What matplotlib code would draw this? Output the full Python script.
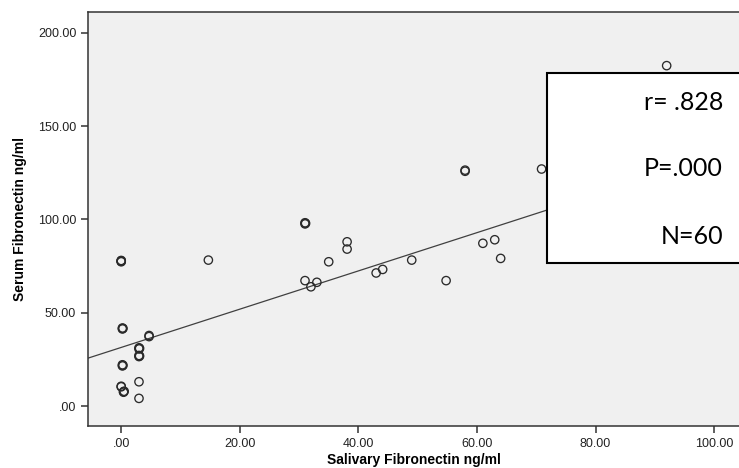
import numpy as np
import matplotlib
matplotlib.use('Agg')
import matplotlib.pyplot as plt
from matplotlib.patches import Rectangle
from matplotlib.ticker import FuncFormatter

# salivary (x) vs serum (y) fibronectin, ng/ml; repeated pairs are overlapping subjects
salivary = [0.0, 0.0, 0.0, 0.0, 14.7,
            0.2, 0.2, 0.3, 4.7, 4.7,
            3.0, 3.0, 3.1, 3.0, 3.0, 3.1,
            0.2, 0.2, 0.3, 0.0, 0.0,
            0.4, 0.5, 0.4, 3.0, 3.0,
            31.0, 31.0, 31.1, 38.1, 38.1, 35.0,
            31.0, 33.0, 32.0, 43.0, 44.1, 49.0,
            54.8, 61.0, 63.0, 64.0, 58.0, 58.0,
            70.9, 92.0]
serum = [77.3, 77.6, 78.0, 77.8, 78.2,
         41.3, 41.8, 41.6, 37.2, 37.8,
         30.6, 31.2, 30.9, 26.5, 27.1, 26.8,
         21.5, 22.1, 21.8, 10.3, 10.6,
         7.4, 7.9, 7.7, 13.0, 4.1,
         97.6, 98.2, 97.9, 88.0, 84.1, 77.3,
         67.2, 66.3, 63.9, 71.3, 73.2, 78.2,
         67.2, 87.2, 89.1, 79.1, 125.8, 126.4,
         127.0, 182.4]

fit_intercept = 31.4
fit_slope = 1.025

stats_text = ['r= .828', 'P=.000', 'N=60']

x_ticks = [0, 20, 40, 60, 80, 100]
y_ticks = [0, 50, 100, 150, 200]


def spss_fmt(v, pos=None):
    s = f'{v:.2f}'
    return s[1:] if s.startswith('0') else s


W, H = 739, 468
fig = plt.figure(figsize=(W / 100, H / 100), dpi=100)
ax = fig.add_axes([88 / W, (H - 426) / H, (W - 88) / W, (426 - 11.7) / H])
ax.set_facecolor('#f0f0f0')

ax.set_xlim(-5.6, 104.2)
ax.set_ylim(-10.7, 211.3)

xs = np.array(ax.get_xlim())
ax.plot(xs, fit_intercept + fit_slope * xs, color='#404040', lw=0.9, zorder=2)

ax.scatter(salivary, serum, s=36, facecolors='none', edgecolors='#2a2a2a',
           linewidths=0.95, zorder=3)

for side in ['top', 'left', 'bottom']:
    ax.spines[side].set_color('#333333')
    ax.spines[side].set_linewidth(1.1)
ax.spines['right'].set_visible(False)

ax.set_xticks(x_ticks)
ax.set_yticks(y_ticks)
ax.xaxis.set_major_formatter(FuncFormatter(spss_fmt))
ax.yaxis.set_major_formatter(FuncFormatter(spss_fmt))
ax.tick_params(direction='out', length=5, width=1.1, color='#333333',
               labelsize=9, labelcolor='#222222')
for lab in ax.get_xticklabels() + ax.get_yticklabels():
    lab.set_family('Liberation Sans')

ax.set_xlabel('Salivary Fibronectin ng/ml', fontsize=10, fontweight='bold',
              family='Liberation Sans', labelpad=2)
ax.set_ylabel('Serum Fibronectin ng/ml', fontsize=10, fontweight='bold',
              family='Liberation Sans', labelpad=8)

# statistics box, partly off the right edge like the original
box = Rectangle((547 / W, (H - 263) / H), (W + 20 - 547) / W, (263 - 73) / H,
                transform=fig.transFigure, facecolor='white', edgecolor='black',
                linewidth=1.5, zorder=5, clip_on=False)
fig.add_artist(box)
for txt, py in zip(stats_text, [102, 168, 236]):
    fig.text(723 / W, (H - py) / H, txt, ha='right', va='center', fontsize=18,
             family='Lato', color='black', zorder=6)

fig.savefig('out.png', dpi=100)
